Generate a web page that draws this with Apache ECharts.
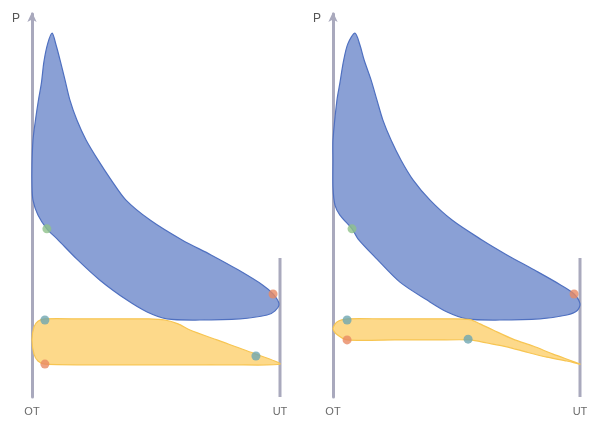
<!DOCTYPE html>
<html><head><meta charset="utf-8">
<script src="https://cdn.jsdelivr.net/npm/echarts@6/dist/echarts.min.js"></script>
<style>html,body{margin:0;padding:0;background:#fff}#c{width:592px;height:425px}</style>
</head><body><div id="c"></div>
<script>
// x axis: volume, 0 = OT (top dead centre), 100 = UT (bottom dead centre); y axis: pressure (arbitrary units)
const xTickLabels = ['OT', 'UT'];
const yAxisName = 'P';
const utLineTop = 36.3;

// Left diagram — high-pressure loop (blue)
const leftBlueV = [8.1, 9.7, 11.3, 13.3, 15.3, 18.1, 21.8, 26.6, 31.9, 37.9, 47.6, 60.5, 72.2, 83.1, 93.1, 97.2, 99.6, 98.0, 94.8, 83.9, 67.7, 54.4, 46.4, 38.3, 27.4, 18.1, 10.1, 6.0, 2.4, 0.4, 0, 0, 0.4, 1.4, 2.6, 3.8, 4.8, 6.3];
const leftBlueP = [95.0, 91.9, 88.0, 82.8, 77.5, 72.3, 67.1, 61.9, 56.7, 51.4, 46.2, 41.0, 37.1, 33.2, 29.2, 26.9, 24.3, 22.5, 21.4, 20.4, 20.1, 20.4, 22.2, 25.3, 30.5, 36.0, 41.3, 43.9, 47.5, 51.4, 55.4, 60.6, 67.1, 72.3, 77.5, 82.0, 87.5, 92.2];
// Left diagram — gas-exchange loop (yellow)
const leftYellowV = [5.2, 20.0, 35.0, 47.0, 53.6, 58.9, 63.7, 74.6, 90.3, 100, 80.0, 55.0, 30.0, 5.2, 2.4, 0.8, 0, 0.8, 2.4];
const leftYellowP = [20.4, 20.4, 20.4, 20.4, 20.1, 19.1, 17.5, 14.9, 11.2, 8.6, 8.4, 8.4, 8.4, 8.6, 9.4, 11.2, 14.9, 18.3, 19.8];
// Left diagram — marked points
const leftDotsV = [6.0, 97.2, 5.2, 5.2, 90.3];
const leftDotsP = [43.9, 26.9, 20.1, 8.6, 10.7];

// Right diagram — high-pressure loop (blue)
const rightBlueV = [8.9, 10.9, 12.6, 15.4, 17.8, 20.2, 23.5, 27.5, 32.4, 39.3, 48.2, 60.3, 70.4, 81.4, 92.3, 97.6, 100, 98.8, 94.7, 83.8, 67.6, 54.3, 46.2, 38.1, 27.1, 17.8, 10.1, 7.7, 2.8, 0.8, 0, 0, 0, 1.6, 2.8, 4.2, 6.0];
const rightBlueP = [95.0, 91.9, 88.0, 82.8, 77.5, 72.3, 67.1, 61.9, 56.7, 51.4, 46.2, 41.0, 37.1, 33.2, 29.2, 26.9, 24.3, 22.5, 21.4, 20.4, 20.1, 20.4, 22.2, 25.3, 30.0, 36.0, 41.3, 43.9, 47.5, 50.1, 54.8, 61.9, 67.1, 77.5, 82.0, 87.5, 92.2];
// Right diagram — gas-exchange loop (yellow)
const rightYellowV = [6.1, 20.0, 35.0, 48.0, 55.5, 59.5, 64.8, 72.9, 81.0, 89.1, 100, 94.7, 86.6, 78.5, 70.4, 62.3, 55.5, 42.0, 25.0, 5.7, 1.6, 0, 1.6];
const rightYellowP = [20.4, 20.4, 20.4, 20.4, 20.2, 19.1, 17.5, 15.1, 13.3, 11.2, 8.6, 9.4, 10.4, 11.7, 13.1, 14.1, 14.9, 14.9, 14.9, 14.9, 16.3, 17.8, 19.6];
// Right diagram — marked points
const rightDotsV = [7.7, 97.6, 5.7, 5.7, 54.7];
const rightDotsP = [43.9, 26.9, 20.1, 14.9, 15.1];

const dotColors = ['#8fc28a', '#e88a63', '#6ea6b2', '#e88a63', '#6ea6b2'];

const zip = (a, b) => a.map((v, i) => [v, b[i]]);
const axisColor = '#a9a9bd';

function polySeries(idx, pts, fill, stroke, z, sm) {
  return {
    type: 'custom', xAxisIndex: idx, yAxisIndex: idx, data: [0], silent: true, z: z,
    renderItem: function (params, api) {
      return {
        type: 'polygon',
        shape: { points: pts.map(p => api.coord(p)), smooth: sm },
        style: { fill: fill, stroke: stroke, lineWidth: 1.2 }
      };
    }
  };
}
function utLine(idx) {
  return { type: 'line', xAxisIndex: idx, yAxisIndex: idx, data: [[100, 0], [100, utLineTop]], symbol: 'none', silent: true,
    lineStyle: { color: axisColor, width: 3 }, z: 1 };
}
function dots(idx, V, P) {
  return { type: 'scatter', xAxisIndex: idx, yAxisIndex: idx, symbolSize: 9, silent: true, z: 5,
    data: V.map((v, i) => ({ value: [v, P[i]], itemStyle: { color: dotColors[i] } })) };
}
function xAx(idx) {
  return { type: 'value', gridIndex: idx, min: 0, max: 100, interval: 100,
    axisLine: { show: false }, axisTick: { show: false }, splitLine: { show: false },
    axisLabel: { margin: 9, fontSize: 11, color: '#6a6a6a', fontFamily: 'Liberation Sans, Arial, sans-serif',
      formatter: v => v === 0 ? xTickLabels[0] : (v === 100 ? xTickLabels[1] : '') } };
}
function yAx(idx) {
  return { type: 'value', gridIndex: idx, min: 0, max: 100, name: yAxisName, nameLocation: 'end', nameGap: 1,
    nameTextStyle: { align: 'right', verticalAlign: 'top', padding: [0, 12, 0, 0], fontSize: 12, color: '#555', fontFamily: 'Liberation Sans, Arial, sans-serif' },
    axisLine: { show: true, symbol: ['none', 'arrow'], symbolSize: [7, 10], symbolOffset: [0, 2], lineStyle: { color: axisColor, width: 3 } },
    axisTick: { show: false }, axisLabel: { show: false }, splitLine: { show: false } };
}

const chart = echarts.init(document.getElementById('c'), null, { renderer: 'canvas' });
chart.setOption({
  animation: false,
  backgroundColor: '#fff',
  grid: [
    { left: 32, top: 14, width: 248, height: 383 },
    { left: 333, top: 14, width: 247, height: 383 }
  ],
  xAxis: [xAx(0), xAx(1)],
  yAxis: [yAx(0), yAx(1)],
  series: [
    utLine(0), utLine(1),
    polySeries(0, zip(leftBlueV, leftBlueP), '#8aa0d5', '#4f70c0', 2, 0.3),
    polySeries(0, zip(leftYellowV, leftYellowP), '#fdd98a', '#f7c552', 3, 0.25),
    polySeries(1, zip(rightBlueV, rightBlueP), '#8aa0d5', '#4f70c0', 2, 0.3),
    polySeries(1, zip(rightYellowV, rightYellowP), '#fdd98a', '#f7c552', 3, 0.25),
    dots(0, leftDotsV, leftDotsP),
    dots(1, rightDotsV, rightDotsP)
  ]
});
</script></body></html>
